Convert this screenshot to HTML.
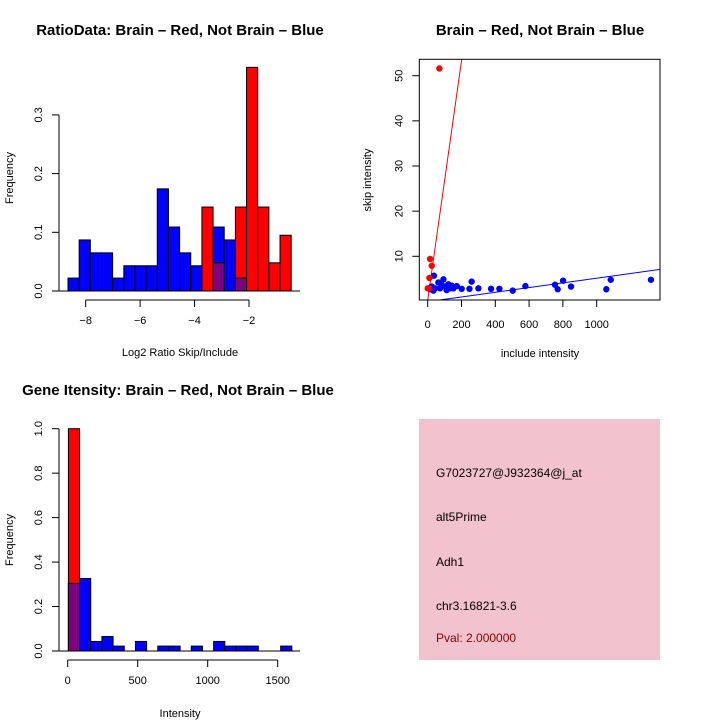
<!DOCTYPE html>
<html><head><meta charset="utf-8"><style>
body{margin:0;background:#fff}
svg{display:block;font-family:"Liberation Sans",sans-serif}
</style></head><body>
<svg id="s" width="720" height="720" viewBox="0 0 720 720">
<rect width="720" height="720" fill="#fff"/>
<g id="p1"></g>
<g id="p2"></g>
<g id="p3"></g>
<g>
<rect x="419" y="419" width="241" height="241" fill="#f2c3ce"/>
<text x="436" y="477" font-size="12">G7023727@J932364@j_at</text>
<text x="436" y="521" font-size="12">alt5Prime</text>
<text x="436" y="566" font-size="12">Adh1</text>
<text x="436" y="610" font-size="12">chr3.16821-3.6</text>
<text x="436" y="642" font-size="12" fill="#8b0000">Pval: 2.000000</text>
</g>
</svg>
<script>
// ---- Plot 1 data: ratio histogram
const ratioBinStart = -8.65, ratioBinWidth = 0.41;
const ratioBlue = [0.022,0.087,0.065,0.065,0.022,0.043,0.043,0.043,0.174,0.109,0.065,0.043,0,0.109,0.087,0.022,0,0,0,0];
const ratioRed  = [0,0,0,0,0,0,0,0,0,0,0,0,0.143,0.048,0,0.143,0.381,0.143,0.048,0.095];
const ratioXTicks = [-8,-6,-4,-2];
const ratioYTicks = [0,0.1,0.2,0.3];
// ---- Plot 2 data: scatter
const blueInclude = [37,93,63,122,142,172,24,43,73,112,152,201,247,260,300,375,424,503,578,753,769,801,848,1057,1083,1321,14,83,103,132,34];
const blueSkip    = [5.7,4.9,4.2,3.8,3.5,3.4,3.3,2.9,2.9,2.5,2.9,2.8,2.8,4.4,2.9,2.8,2.8,2.4,3.4,3.7,2.7,4.6,3.3,2.7,4.8,4.8,2.7,3.6,3.3,2.9,2.4];
const redInclude = [69,14,24,10,0,10];
const redSkip    = [51.6,9.4,7.9,5.2,2.9,2.9];
const redFit  = [0.3,0.265];   // intercept, slope
const blueFit = [-0.05,0.0052];
const scatXTicks = [0,200,400,600,800,1000];
const scatYTicks = [10,20,30,40,50];
// ---- Plot 3 data: intensity histogram
const intBinStart = 5, intBinWidth = 79.8;
const intBlue = [0.304,0.326,0.043,0.065,0.022,0,0.043,0,0.022,0.022,0,0.022,0,0.043,0.022,0.022,0.022,0,0,0.022];
const intRed  = [1.0,0,0,0,0,0,0,0,0,0,0,0,0,0,0,0,0,0,0,0];
const intXTicks = [0,500,1000,1500];
const intYTicks = [0,0.2,0.4,0.6,0.8,1.0];

const NS="http://www.w3.org/2000/svg";
function mk(parent,tag,attrs,txt){const e=document.createElementNS(NS,tag);for(const k in attrs)e.setAttribute(k,attrs[k]);if(txt!==undefined)e.textContent=txt;parent.appendChild(e);return e;}
function lin(d0,d1,r0,r1){return v=>r0+(v-d0)/(d1-d0)*(r1-r0);}

function hist(g,binStart,binW,blue,red,sx,sy,prefix){
  for(let i=0;i<blue.length;i++){
    const x0=sx(binStart+i*binW), x1=sx(binStart+(i+1)*binW);
    const b=blue[i], r=red[i];
    if(b>0){const e=mk(g,'rect',{x:x0,y:sy(b),width:x1-x0,height:sy(0)-sy(b),fill:'#0000ff',stroke:'#000','stroke-width':1});
      
      }
    if(r>0){const e=mk(g,'rect',{x:x0,y:sy(r),width:x1-x0,height:sy(0)-sy(r),fill:'#ff0000',stroke:'#000','stroke-width':1});
      
      }
    const m=Math.min(b,r);
    if(m>0){const e=mk(g,'rect',{x:x0,y:sy(m),width:x1-x0,height:sy(0)-sy(m),fill:'#800080',stroke:'#000','stroke-width':1});
      
      }
  }
}
function yaxis(g,x,ticks,sy,fmt,name){
  const ax=mk(g,'line',{x1:x,x2:x,y1:sy(ticks[0]),y2:sy(ticks[ticks.length-1]),stroke:'#000'});
  
  
  ticks.forEach(t=>{mk(g,'line',{x1:x-7,x2:x,y1:sy(t),y2:sy(t),stroke:'#000'});
    const tx=mk(g,'text',{x:x-17,y:sy(t),'font-size':11,'text-anchor':'middle',transform:`rotate(-90 ${x-17} ${sy(t)})`},fmt(t));
    
    });
}
function xaxis(g,y,ticks,sx,fmt,name){
  const ax=mk(g,'line',{x1:sx(ticks[0]),x2:sx(ticks[ticks.length-1]),y1:y,y2:y,stroke:'#000'});
  
  
  ticks.forEach(t=>{mk(g,'line',{x1:sx(t),x2:sx(t),y1:y,y2:y+7,stroke:'#000'});
    const tx=mk(g,'text',{x:sx(t),y:y+24,'font-size':11,'text-anchor':'middle'},fmt(t));
    
    });
}
function label(g,x,y,txt,name,opts){
  const a=Object.assign({x:x,y:y,'font-size':11,'text-anchor':'middle'},opts||{});
  const t=mk(g,'text',a,txt);
  
  
}
const minus=t=>String(t).replace('-','\u2212');

// Plot 1
{const g=document.getElementById('p1');
 const sx=lin(-8,-2,85.7,249), sy=lin(0,0.1,291,232.3);
 hist(g,ratioBinStart,ratioBinWidth,ratioBlue,ratioRed,sx,sy,'ratio');
 mk(g,'line',{x1:sx(ratioBinStart)-10,x2:300,y1:291,y2:291,stroke:'#000','stroke-width':1});
 yaxis(g,59,ratioYTicks,sy,t=>t.toFixed(1),'y-axis');
 xaxis(g,300,ratioXTicks,sx,minus,'x-axis');
 label(g,180,35,'RatioData: Brain \u2013 Red, Not Brain \u2013 Blue','chart-title',{'font-size':15,'font-weight':'bold'});
 label(g,180,356,'Log2 Ratio Skip/Include','x-axis-title');
 label(g,13,178,'Frequency','y-axis-title',{transform:'rotate(-90 13 178)'});
}
// Plot 2
{const g=document.getElementById('p2');
 const sx=lin(0,1000,427.7,596.7), sy=lin(10,50,256.3,75.7);
 const L=419.3,R=660,T=59.3,B=300;
 mk(g,'defs',{}).innerHTML='<clipPath id="c2"><rect x="419.3" y="59.3" width="240.7" height="240.7"/></clipPath>';
 const cg=mk(g,'g',{'clip-path':'url(#c2)'});
 const x0v=-100,x1v=1500;
 let e=mk(cg,'line',{x1:sx(x0v),y1:sy(redFit[0]+redFit[1]*x0v),x2:sx(x1v),y2:sy(redFit[0]+redFit[1]*x1v),stroke:'#ff0000'});
 
 
 e=mk(cg,'line',{x1:sx(x0v),y1:sy(blueFit[0]+blueFit[1]*x0v),x2:sx(x1v),y2:sy(blueFit[0]+blueFit[1]*x1v),stroke:'#0000ff'});
 
 
 blueInclude.forEach((v,i)=>{const c=mk(cg,'circle',{cx:sx(v),cy:sy(blueSkip[i]),r:3.2,fill:'#0000ff'});
   
   });
 redInclude.forEach((v,i)=>{const c=mk(cg,'circle',{cx:sx(v),cy:sy(redSkip[i]),r:3.2,fill:'#ff0000'});
   
   });
 const box=mk(g,'rect',{x:L,y:T,width:R-L,height:B-T,fill:'none',stroke:'#000'});
 
 
 scatYTicks.forEach(t=>{mk(g,'line',{x1:L-7,x2:L,y1:sy(t),y2:sy(t),stroke:'#000'});
   const tx=mk(g,'text',{x:L-17,y:sy(t),'font-size':11,'text-anchor':'middle',transform:`rotate(-90 ${L-17} ${sy(t)})`},String(t));
   
   });
 scatXTicks.forEach(t=>{mk(g,'line',{x1:sx(t),x2:sx(t),y1:B,y2:B+7,stroke:'#000'});
   const tx=mk(g,'text',{x:sx(t),y:B+28,'font-size':11,'text-anchor':'middle'},String(t));
   
   });
 label(g,540,35,'Brain \u2013 Red, Not Brain \u2013 Blue','chart-title',{'font-size':15,'font-weight':'bold'});
 label(g,540,357,'include intensity','x-axis-title');
 label(g,371,180,'skip intensity','y-axis-title',{transform:'rotate(-90 371 180)'});
}
// Plot 3
{const g=document.getElementById('p3');
 const sx=lin(0,1500,67.7,277.7), sy=lin(0,1,651,428.7);
 hist(g,intBinStart,intBinWidth,intBlue,intRed,sx,sy,'intensity');
 mk(g,'line',{x1:52,x2:300,y1:651,y2:651,stroke:'#000'});
 yaxis(g,59,intYTicks,sy,t=>t.toFixed(1),'y-axis');
 xaxis(g,660,intXTicks,sx,String,'x-axis');
 label(g,178,395,'Gene Itensity: Brain \u2013 Red, Not Brain \u2013 Blue','chart-title',{'font-size':15,'font-weight':'bold'});
 label(g,180,717,'Intensity','x-axis-title');
 label(g,13,540,'Frequency','y-axis-title',{transform:'rotate(-90 13 540)'});
}
</script>
</body></html>
